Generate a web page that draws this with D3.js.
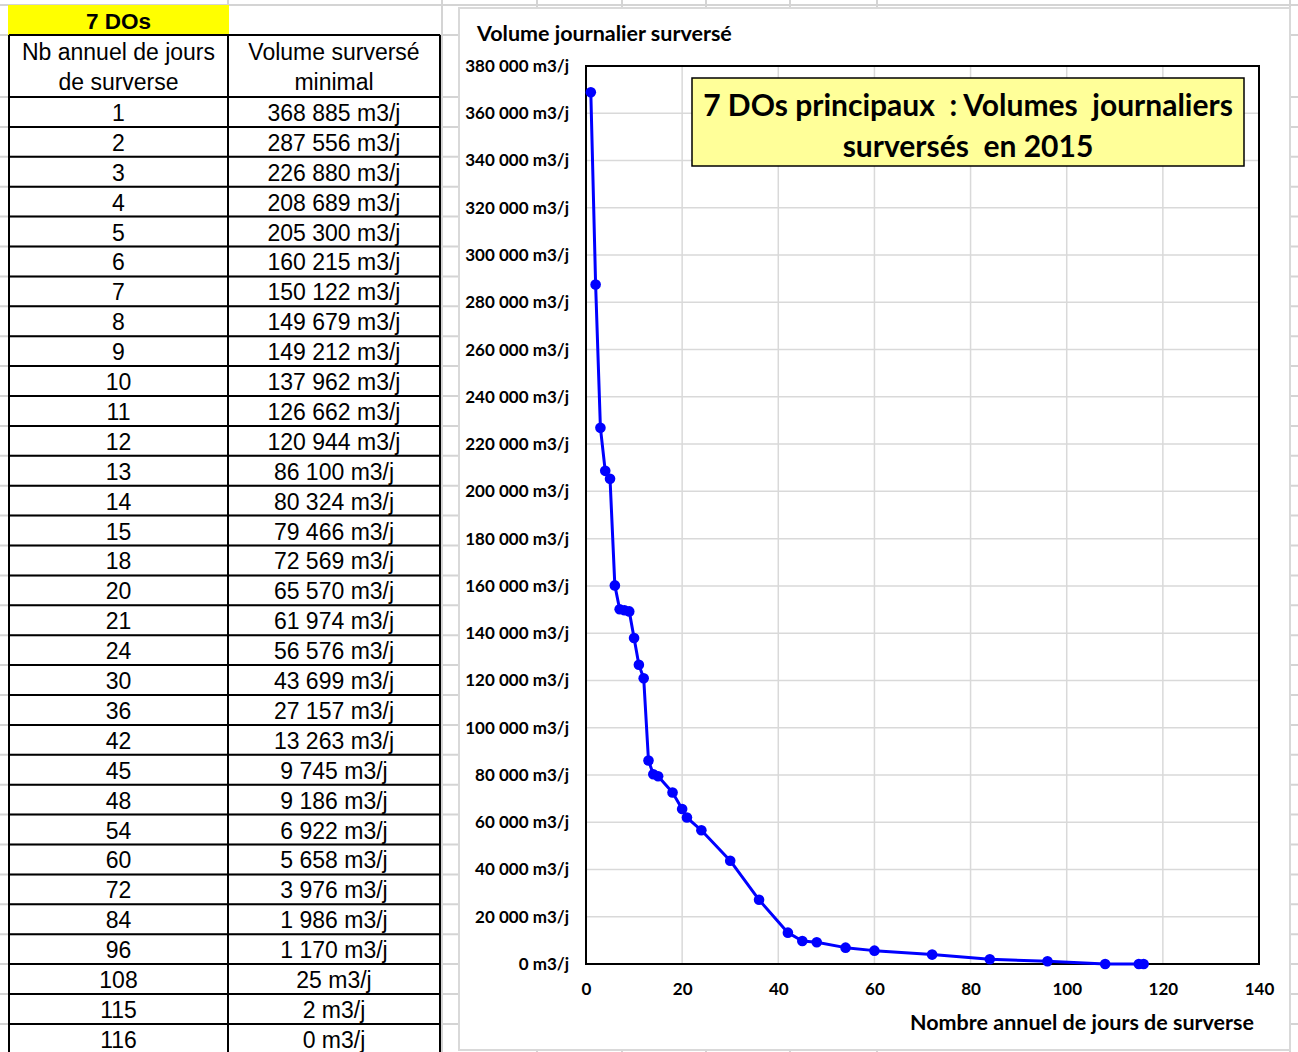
<!DOCTYPE html>
<html>
<head>
<meta charset="utf-8">
<script src="https://cdn.jsdelivr.net/npm/d3@7"></script>
<style>
  body { margin: 0; background: #fff; }
  svg { display: block; }
  .cell { font-family: "Liberation Sans", Arial, sans-serif; font-size: 23px; fill: #000; }
  .chart text { font-family: Lato, "Open Sans", sans-serif; font-weight: bold; fill: #000; }
</style>
</head>
<body>
<div id="sheet"></div>
<script>
var days = [1, 2, 3, 4, 5, 6, 7, 8, 9, 10, 11, 12, 13, 14, 15, 18, 20, 21, 24, 30, 36, 42, 45, 48, 54, 60, 72, 84, 96, 108, 115, 116];
var volumes = [368885, 287556, 226880, 208689, 205300, 160215, 150122, 149679, 149212, 137962, 126662, 120944,
  86100, 80324, 79466, 72569, 65570, 61974, 56576, 43699, 27157, 13263, 9745, 9186, 6922, 5658, 3976, 1986, 1170, 25, 2, 0];
var headerLabels = ["Nb annuel de jours|de surverse", "Volume surversé|minimal"];
var tableTitle = "7 DOs";
var chartTitle = ["7 DOs principaux  : Volumes  journaliers", "surversés  en 2015"];
var yTicks = d3.range(0, 380001, 20000);
var xTicks = d3.range(0, 141, 20);

var W = 1298, H = 1052;
var fr = d3.formatLocale({decimal: ",", thousands: " ", grouping: [3], currency: ["", ""]});
var fmt = fr.format(",d");

var svg = d3.select("#sheet").append("svg").attr("width", W).attr("height", H);

// spreadsheet gridlines behind everything
var rowTop = 97, rowH = 29.9;
var rowLines = [5, 35].concat(d3.range(0, 33).map(function(i) { return rowTop + i * rowH; }));
svg.append("g").selectAll("line").data(rowLines).enter().append("line")
  .attr("x1", 0).attr("x2", W).attr("y1", function(d) { return d; }).attr("y2", function(d) { return d; })
  .attr("stroke", "#d4d4d4").attr("stroke-width", 2);
var colLines = [228, 442, 537, 622, 706, 790, 877, 1290];
svg.append("g").selectAll("line").data(colLines).enter().append("line")
  .attr("y1", 0).attr("y2", H).attr("x1", function(d) { return d; }).attr("x2", function(d) { return d; })
  .attr("stroke", "#d4d4d4").attr("stroke-width", 2);

// ---- table ----
var xL = 9, xM = 228, xR = 440;
var tbl = svg.append("g");
tbl.append("rect").attr("x", xL - 1).attr("y", 5).attr("width", xM - xL + 2).attr("height", 30).attr("fill", "#ffff00");
tbl.append("text").attr("class", "cell").attr("x", (xL + xM) / 2).attr("y", 21)
  .attr("text-anchor", "middle").attr("dominant-baseline", "central")
  .style("font-weight", "bold").style("font-size", "22.5px").text(tableTitle);

// header
headerLabels.forEach(function(h, i) {
  var cx = i == 0 ? (xL + xM) / 2 : (xM + xR) / 2;
  h.split("|").forEach(function(line, j) {
    tbl.append("text").attr("class", "cell").attr("x", cx).attr("y", 52 + j * 30)
      .attr("text-anchor", "middle").attr("dominant-baseline", "central").text(line);
  });
});

var rows = tbl.selectAll("g.row").data(days).enter().append("g").attr("class", "row");
rows.append("text").attr("class", "cell")
  .attr("x", (xL + xM) / 2).attr("y", function(d, i) { return rowTop + i * rowH + rowH / 2 + 1; })
  .attr("text-anchor", "middle").attr("dominant-baseline", "central")
  .text(function(d) { return d; });
rows.append("text").attr("class", "cell")
  .attr("x", (xM + xR) / 2).attr("y", function(d, i) { return rowTop + i * rowH + rowH / 2 + 1; })
  .attr("text-anchor", "middle").attr("dominant-baseline", "central")
  .text(function(d, i) { return fmt(volumes[i]) + " m3/j"; });

// table borders
var hl = [35, rowTop].concat(d3.range(1, 33).map(function(i) { return rowTop + i * rowH; }));
tbl.selectAll("line.h").data(hl).enter().append("line")
  .attr("x1", xL).attr("x2", xR).attr("y1", function(d) { return d; }).attr("y2", function(d) { return d; })
  .attr("stroke", "#000").attr("stroke-width", 2);
tbl.selectAll("line.v").data([xL, xM, xR]).enter().append("line")
  .attr("y1", 35).attr("y2", H).attr("x1", function(d) { return d; }).attr("x2", function(d) { return d; })
  .attr("stroke", "#000").attr("stroke-width", 2);

// ---- chart ----
var chart = svg.append("g").attr("class", "chart");
chart.append("rect").attr("x", 459).attr("y", 8).attr("width", 831).attr("height", 1042)
  .attr("fill", "#fff").attr("stroke", "#d9d9d9").attr("stroke-width", 2);

var plot = {left: 586, right: 1259, top: 66, bottom: 964};
var x = d3.scaleLinear().domain([0, 140]).range([plot.left, plot.right]);
var y = d3.scaleLinear().domain([0, 380000]).range([plot.bottom, plot.top]);

// gridlines
chart.append("g").selectAll("line").data(yTicks).enter().append("line")
  .attr("x1", plot.left).attr("x2", plot.right)
  .attr("y1", function(d) { return y(d); }).attr("y2", function(d) { return y(d); })
  .attr("stroke", "#d9d9d9").attr("stroke-width", 1.5);
chart.append("g").selectAll("line").data(xTicks).enter().append("line")
  .attr("y1", plot.top).attr("y2", plot.bottom)
  .attr("x1", function(d) { return x(d); }).attr("x2", function(d) { return x(d); })
  .attr("stroke", "#d9d9d9").attr("stroke-width", 1.5);

// axes (labels only)
var yAxis = d3.axisLeft(y).tickValues(yTicks).tickSize(0).tickPadding(17)
  .tickFormat(function(d) { return fmt(d) + " m3/j"; });
var gy = chart.append("g").attr("transform", "translate(" + plot.left + ",0)").call(yAxis);
gy.select(".domain").remove();
gy.selectAll("text").style("font-size", "17px");

var xAxis = d3.axisBottom(x).tickValues(xTicks).tickSize(0).tickPadding(19);
var gx = chart.append("g").attr("transform", "translate(0," + plot.bottom + ")").call(xAxis);
gx.select(".domain").remove();
gx.selectAll("text").style("font-size", "17px");

chart.append("rect").attr("x", plot.left).attr("y", plot.top)
  .attr("width", plot.right - plot.left).attr("height", plot.bottom - plot.top)
  .attr("fill", "none").attr("stroke", "#000").attr("stroke-width", 2);

chart.append("text").attr("x", 477).attr("y", 33).attr("dominant-baseline", "central")
  .style("font-size", "21.5px").text("Volume journalier surversé");
chart.append("text").attr("x", 1254).attr("y", 1022).attr("text-anchor", "end").attr("dominant-baseline", "central")
  .style("font-size", "21.5px").text("Nombre annuel de jours de surverse");

// series
var pts = days.map(function(d, i) { return [d, volumes[i]]; });
var line = d3.line().x(function(d) { return x(d[0]); }).y(function(d) { return y(d[1]); });
chart.append("path").datum(pts).attr("d", line)
  .attr("fill", "none").attr("stroke", "#0000ff").attr("stroke-width", 3).attr("stroke-linejoin", "round");
chart.append("g").selectAll("circle").data(pts).enter().append("circle")
  .attr("cx", function(d) { return x(d[0]); }).attr("cy", function(d) { return y(d[1]); })
  .attr("r", 5.3).attr("fill", "#0000ff");

// title box
chart.append("rect").attr("x", 692).attr("y", 78).attr("width", 552).attr("height", 88)
  .attr("fill", "#ffff99").attr("stroke", "#000").attr("stroke-width", 1.5);
chartTitle.forEach(function(t, i) {
  chart.append("text").attr("x", 968).attr("y", 104 + i * 41).attr("text-anchor", "middle")
    .attr("dominant-baseline", "central").style("font-size", "30px").style("white-space", "pre")
    .text(t);
});
</script>
</body>
</html>
